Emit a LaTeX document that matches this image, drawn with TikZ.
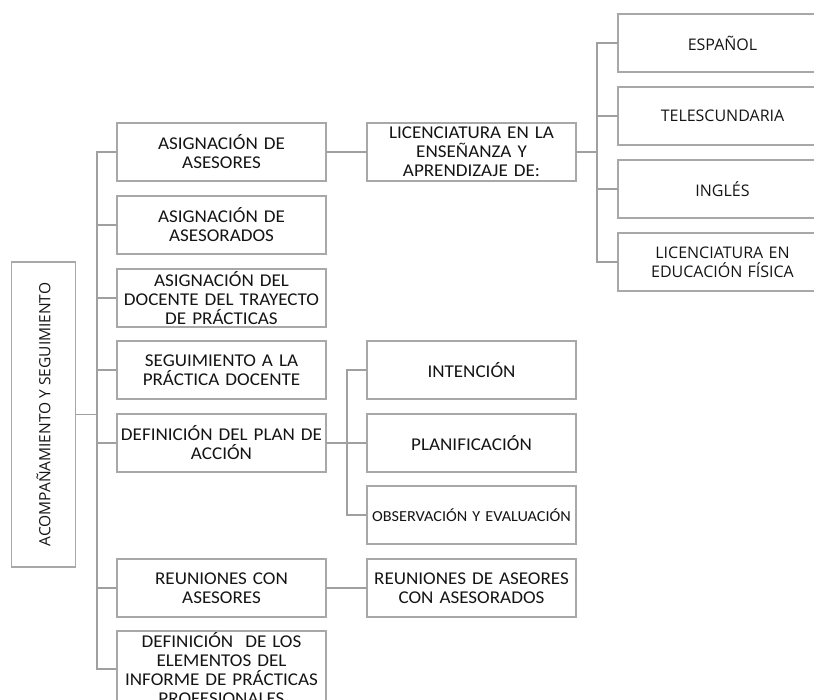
\documentclass[tikz,border=0pt]{standalone}
\usepackage{graphicx}
\usepackage{fontspec}
\setmainfont{Carlito}[FakeStretch=1.06]
\newfontfamily\widefont{Open Sans}
\usetikzlibrary{positioning,calc}
\definecolor{boxgray}{HTML}{A8A8A8}
\definecolor{linegray}{HTML}{A0A0A0}
\definecolor{textgray}{HTML}{141414}
\tikzset{
    block/.style = {
        draw = boxgray,
        line width = 1.3pt,
        minimum width = 209pt,
        minimum height = 58pt,
        text width = 207pt,
        align = center,
        inner sep = 1pt,
        outer sep = 0pt,
        text = textgray,
        font = \fontsize{18}{19}\selectfont,
        },
    wide block/.style = {
        block,
        font = \widefont\fontsize{16}{19}\selectfont,
        },
    small block/.style = {
        block,
        font = \fontsize{15.3}{19}\selectfont,
        },
    link/.style = {
        draw = linegray,
        line width = 1.5pt,
        },
}

\begin{document}
\begin{tikzpicture}[
            x=1pt, y=1pt,
            node distance = 15pt,
            RootBlock/.style={block, text width=, minimum width=64pt, minimum height=305pt,
                              font=\widefont\fontsize{15.5}{18}\selectfont},
            ]
            \clip (0,0) rectangle (814,-700);

            % root
            \node [RootBlock] (root) at (43.5,-414.5) {\rotatebox{90}{ACOMPAÑAMIENTO Y SEGUIMIENTO}};

            % first level
            \node [block] (asesores) at (221.5,-152) {ASIGNACIÓN DE\\ ASESORES};
            \node [block, below=of asesores] (asesorados) {ASIGNACIÓN DE\\ ASESORADOS};
            \node [block, below=of asesorados] (docente) {ASIGNACIÓN DEL\\ DOCENTE DEL TRAYECTO\\ DE PRÁCTICAS};
            \node [block, below=14pt of docente] (seguimiento) {SEGUIMIENTO A LA\\ PRÁCTICA DOCENTE};
            \node [block, below=of seguimiento] (plan) {DEFINICIÓN DEL PLAN DE\\ ACCIÓN};
            \node [block, below=87pt of plan] (reuniones) {REUNIONES CON\\ ASESORES};
            \node [block, below=14pt of reuniones, minimum height=76pt] (informe) {DEFINICIÓN~ DE LOS\\ ELEMENTOS DEL\\ INFORME DE PRÁCTICAS\\ PROFESIONALES};

            % second level
            \node [block, right=41pt of asesores] (licenciatura) {LICENCIATURA EN LA\\ ENSEÑANZA Y\\ APRENDIZAJE DE:};
            \node [block, right=41pt of seguimiento] (intencion) {INTENCIÓN};
            \node [block, right=41pt of plan] (planificacion) {PLANIFICACIÓN};
            \node [small block, below=14pt of planificacion] (observacion) {OBSERVACIÓN Y EVALUACIÓN};
            \node [block, right=41pt of reuniones] (aseores) {REUNIONES DE ASEORES\\ CON ASESORADOS};

            % third level
            \node [wide block] (espanol) at (722.5,-43) {ESPAÑOL};
            \node [wide block, below=of espanol] (telesecundaria) {TELESCUNDARIA};
            \node [wide block, below=of telesecundaria] (ingles) {INGLÉS};
            \node [wide block, below=of ingles] (fisica) {LICENCIATURA EN\\ EDUCACIÓN FÍSICA};

            % connectors
            \coordinate (trunk) at ($(root.east)+(21.5,0)$);
            \draw[link] (root.east) -- (trunk);
            \foreach \n in {asesores,asesorados,docente,seguimiento,plan,reuniones,informe}
                \draw[link] (trunk) |- (\n.west);

            \coordinate (licbus) at ($(licenciatura.east)+(21,0)$);
            \draw[link] (asesores.east) -- (licenciatura.west);
            \draw[link] (licenciatura.east) -- (licbus);
            \foreach \n in {espanol,telesecundaria,ingles,fisica}
                \draw[link] (licbus) |- (\n.west);

            \coordinate (planbus) at ($(plan.east)+(21,0)$);
            \draw[link] (plan.east) -- (planbus);
            \foreach \n in {intencion,planificacion,observacion}
                \draw[link] (planbus) |- (\n.west);

            \draw[link] (reuniones.east) -- (aseores.west);
        \end{tikzpicture}
\end{document}
